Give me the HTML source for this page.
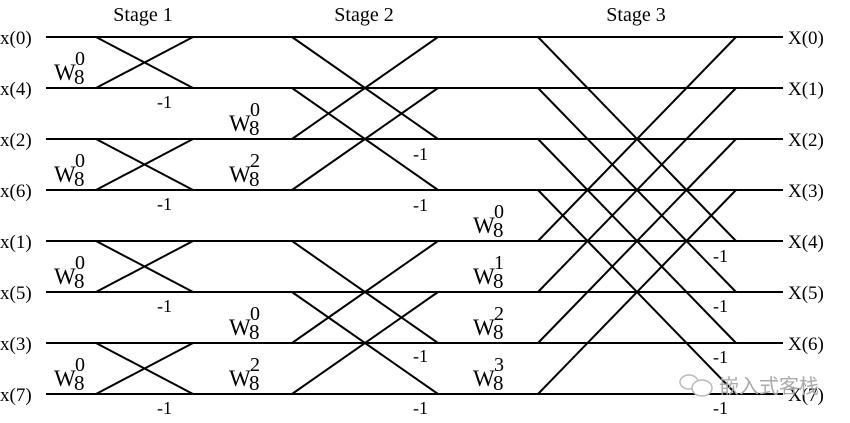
<!DOCTYPE html>
<html><head><meta charset="utf-8"><style>
html,body{margin:0;padding:0;background:#fff;}
svg{display:block;font-family:"Liberation Serif",serif;}
</style></head><body>
<svg width="850" height="423" viewBox="0 0 850 423" xmlns="http://www.w3.org/2000/svg">
<g stroke="#000" stroke-width="2" fill="none">
<line x1="46" y1="37" x2="783" y2="37"/>
<line x1="46" y1="88" x2="783" y2="88"/>
<line x1="46" y1="139" x2="783" y2="139"/>
<line x1="46" y1="190" x2="783" y2="190"/>
<line x1="46" y1="241" x2="783" y2="241"/>
<line x1="46" y1="292" x2="783" y2="292"/>
<line x1="46" y1="343" x2="783" y2="343"/>
<line x1="46" y1="394" x2="783" y2="394"/>
<line x1="96" y1="37" x2="193" y2="88"/><line x1="96" y1="88" x2="193" y2="37"/>
<line x1="96" y1="139" x2="193" y2="190"/><line x1="96" y1="190" x2="193" y2="139"/>
<line x1="96" y1="241" x2="193" y2="292"/><line x1="96" y1="292" x2="193" y2="241"/>
<line x1="96" y1="343" x2="193" y2="394"/><line x1="96" y1="394" x2="193" y2="343"/>
<line x1="292" y1="37" x2="438" y2="139"/><line x1="292" y1="139" x2="438" y2="37"/>
<line x1="292" y1="88" x2="438" y2="190"/><line x1="292" y1="190" x2="438" y2="88"/>
<line x1="292" y1="241" x2="438" y2="343"/><line x1="292" y1="343" x2="438" y2="241"/>
<line x1="292" y1="292" x2="438" y2="394"/><line x1="292" y1="394" x2="438" y2="292"/>
<line x1="538" y1="37" x2="736" y2="241"/><line x1="538" y1="241" x2="736" y2="37"/>
<line x1="538" y1="88" x2="736" y2="292"/><line x1="538" y1="292" x2="736" y2="88"/>
<line x1="538" y1="139" x2="736" y2="343"/><line x1="538" y1="343" x2="736" y2="139"/>
<line x1="538" y1="190" x2="736" y2="394"/><line x1="538" y1="394" x2="736" y2="190"/>
</g>
<g font-size="19" fill="#000">
<text x="143" y="21" text-anchor="middle" font-size="20">Stage 1</text>
<text x="364" y="21" text-anchor="middle" font-size="20">Stage 2</text>
<text x="636" y="21" text-anchor="middle" font-size="20">Stage 3</text>
<text x="0" y="44">x(0)</text><text x="0" y="95">x(4)</text>
<text x="0" y="146">x(2)</text><text x="0" y="197">x(6)</text>
<text x="0" y="248">x(1)</text><text x="0" y="299">x(5)</text>
<text x="0" y="350">x(3)</text><text x="0" y="401">x(7)</text>
<text x="788" y="44">X(0)</text><text x="788" y="95">X(1)</text>
<text x="788" y="146">X(2)</text><text x="788" y="197">X(3)</text>
<text x="788" y="248">X(4)</text><text x="788" y="299">X(5)</text>
<text x="788" y="350">X(6)</text><text x="788" y="401">X(7)</text>
</g>
<g font-size="23" fill="#000">
<g transform="translate(54,80)"><text x="0" y="0">W</text><text x="20" y="4" font-size="21">8</text><text x="21" y="-15" font-size="20">0</text></g>
<g transform="translate(54,182)"><text x="0" y="0">W</text><text x="20" y="4" font-size="21">8</text><text x="21" y="-15" font-size="20">0</text></g>
<g transform="translate(54,284)"><text x="0" y="0">W</text><text x="20" y="4" font-size="21">8</text><text x="21" y="-15" font-size="20">0</text></g>
<g transform="translate(54,386)"><text x="0" y="0">W</text><text x="20" y="4" font-size="21">8</text><text x="21" y="-15" font-size="20">0</text></g>
<g transform="translate(229,131)"><text x="0" y="0">W</text><text x="20" y="4" font-size="21">8</text><text x="21" y="-15" font-size="20">0</text></g>
<g transform="translate(229,182)"><text x="0" y="0">W</text><text x="20" y="4" font-size="21">8</text><text x="21" y="-15" font-size="20">2</text></g>
<g transform="translate(229,335)"><text x="0" y="0">W</text><text x="20" y="4" font-size="21">8</text><text x="21" y="-15" font-size="20">0</text></g>
<g transform="translate(229,386)"><text x="0" y="0">W</text><text x="20" y="4" font-size="21">8</text><text x="21" y="-15" font-size="20">2</text></g>
<g transform="translate(473,233)"><text x="0" y="0">W</text><text x="20" y="4" font-size="21">8</text><text x="21" y="-15" font-size="20">0</text></g>
<g transform="translate(473,284)"><text x="0" y="0">W</text><text x="20" y="4" font-size="21">8</text><text x="21" y="-15" font-size="20">1</text></g>
<g transform="translate(473,335)"><text x="0" y="0">W</text><text x="20" y="4" font-size="21">8</text><text x="21" y="-15" font-size="20">2</text></g>
<g transform="translate(473,386)"><text x="0" y="0">W</text><text x="20" y="4" font-size="21">8</text><text x="21" y="-15" font-size="20">3</text></g>
</g>
<g font-size="18" fill="#000">
<text x="157" y="108">-1</text><text x="157" y="210">-1</text>
<text x="157" y="312">-1</text><text x="157" y="414">-1</text>
<text x="413" y="160">-1</text><text x="413" y="211">-1</text>
<text x="413" y="362">-1</text><text x="413" y="414">-1</text>
<text x="713" y="262">-1</text><text x="713" y="312">-1</text>
<text x="713" y="363">-1</text><text x="713" y="414">-1</text>
</g>
<g>
<ellipse cx="689" cy="382" rx="9" ry="7" fill="none" stroke="#bbb" stroke-width="1.5"/>
<ellipse cx="702" cy="388" rx="10" ry="8" fill="#fff" stroke="#bbb" stroke-width="1.5"/>
<text x="719" y="393" font-size="20" font-family="'Noto Sans CJK SC',sans-serif" fill="#aaa">嵌入式客栈</text>
</g>
</svg>
</body></html>
